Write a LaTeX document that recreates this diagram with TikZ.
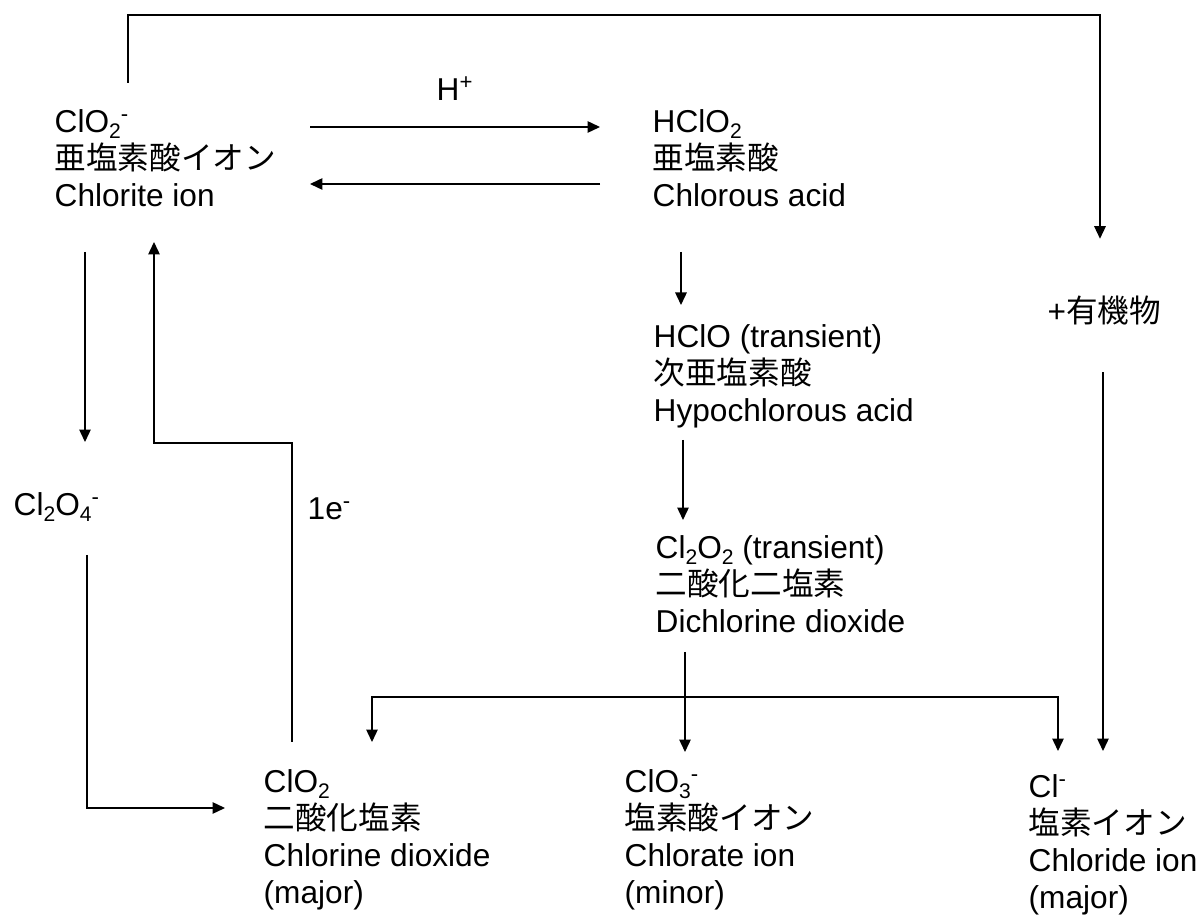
\documentclass[tikz,border=0pt]{standalone}
\usepackage{fontspec}
\setmainfont{Liberation Sans}
\newfontfamily\jp{Noto Sans CJK JP}
\usetikzlibrary{arrows.meta,calc}
\newcommand\chsub[1]{\raisebox{-0.18em}{\fontsize{12}{12}\selectfont #1}}
\begin{document}
\begin{tikzpicture}[x=0.02cm, y=-0.02cm, line width=0.8pt, >={Triangle[length=0.25cm, width=0.23cm]},
  every node/.style={inner sep=0pt, font=\fontsize{18}{21}\selectfont},
  chem/.style={align=left, anchor=north west}]
\useasboundingbox (0,0) rectangle (1198,915);
\node[chem] (clo2m) at (54,109) {ClO\chsub{2}\textsuperscript{-}\\{\jp 亜塩素酸イオン}\\Chlorite ion};
\node[chem] (hclo2) at (652,109) {HClO\chsub{2}\\{\jp 亜塩素酸}\\Chlorous acid};
\node[chem] (hclo) at (653,324) {HClO (transient)\\{\jp 次亜塩素酸}\\Hypochlorous acid};
\node[chem] (cl2o2) at (655,535) {Cl\chsub{2}O\chsub{2} (transient)\\{\jp 二酸化二塩素}\\Dichlorine dioxide};
\node[chem] (cl2o4m) at (13,492) {Cl\chsub{2}O\chsub{4}\textsuperscript{-}};
\node[chem] (clo2) at (263,769) {ClO\chsub{2}\\{\jp 二酸化塩素}\\Chlorine dioxide\\(major)};
\node[chem] (clo3m) at (624,769) {ClO\chsub{3}\textsuperscript{-}\\{\jp 塩素酸イオン}\\Chlorate ion\\(minor)};
\node[chem] (clm) at (1028,774) {Cl\textsuperscript{-}\\{\jp 塩素イオン}\\Chloride ion\\(major)};
\node[anchor=west] (org) at (1047,311) {+{\jp 有機物}};
\coordinate (topright) at (1100,15);
\coordinate (split) at ($(cl2o2.north west)+(30,162)$);
\draw[->] ($(clo2m.north west)+(74,-26)$) |- (topright) -- ($(org.north west)+(53,-57)$);
\draw[->] ($(clo2m.north west)+(256,18)$) -- node[midway, above=0.52cm] (hplus) {H\textsuperscript{+}} ($(hclo2.north west)+(-52,18)$);
\draw[->] ($(hclo2.north west)+(-52,75)$) -- ($(clo2m.north west)+(256,75)$);
\draw[->] ($(hclo2.north west)+(29,143)$) -- ($(hclo.north west)+(28,-19)$);
\draw[->] ($(hclo.north west)+(30,116)$) -- ($(cl2o2.north west)+(28,-15)$);
\draw[->] ($(cl2o2.north west)+(30,117)$) -- ($(clo3m.north west)+(61,-17)$);
\draw[->] (split) -| ($(clo2.north west)+(109,-27)$);
\draw[->] (split) -| ($(clm.north west)+(30,-23)$);
\draw[->] ($(org.south west)+(56,46)$) -- ($(clm.north west)+(75,-23)$);
\draw[->] ($(clo2m.north west)+(31,143)$) -- ($(cl2o4m.north west)+(72,-50)$);
\draw[->] ($(clo2.north west)+(29,-27)$) |- node[pos=0.39, anchor=west, xshift=0.3cm] (elec) {1e\textsuperscript{-}} ($(clo2m.north west)+(100,334)$) -- ($(clo2m.north west)+(100,133)$);
\draw[->] ($(cl2o4m.north west)+(74,63)$) |- ($(clo2.north west)+(-38,39)$);
\end{tikzpicture}
\end{document}
